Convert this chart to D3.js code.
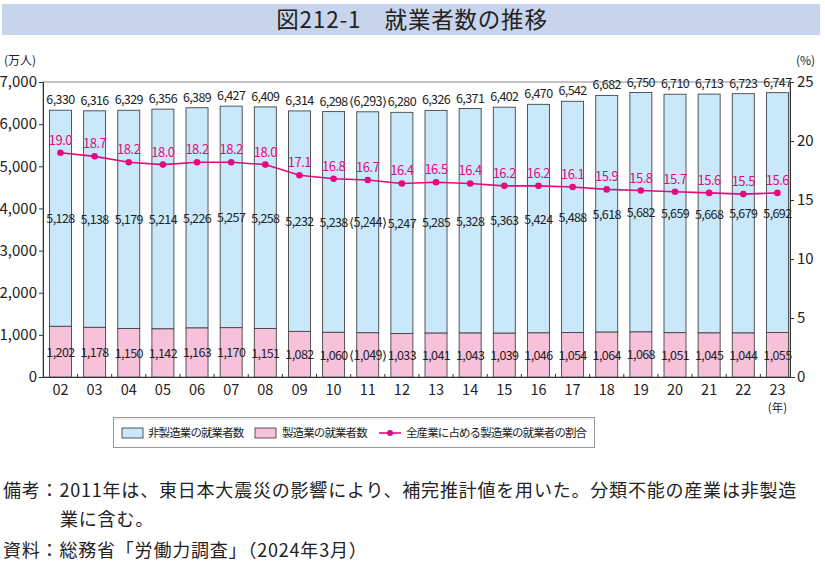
<!DOCTYPE html>
<html><head><meta charset="utf-8">
<script src="https://cdn.jsdelivr.net/npm/d3@7"></script>
<style>
body{margin:0;background:#fff;}
text{font-family:"Noto Sans CJK JP","Noto Sans",sans-serif;}
</style></head>
<body><svg id="c" width="825" height="566"></svg>
<script>
const years = ["02","03","04","05","06","07","08","09","10","11","12","13","14","15","16","17","18","19","20","21","22","23"];
const manuf = [1202,1178,1150,1142,1163,1170,1151,1082,1060,1049,1033,1041,1043,1039,1046,1054,1064,1068,1051,1045,1044,1055];
const nonManuf = [5128,5138,5179,5214,5226,5257,5258,5232,5238,5244,5247,5285,5328,5363,5424,5488,5618,5682,5659,5668,5679,5692];
const totals = [6330,6316,6329,6356,6389,6427,6409,6314,6298,6293,6280,6326,6371,6402,6470,6542,6682,6750,6710,6713,6723,6747];
const share = [19.0,18.7,18.2,18.0,18.2,18.2,18.0,17.1,16.8,16.7,16.4,16.5,16.4,16.2,16.2,16.1,15.9,15.8,15.7,15.6,15.5,15.6];
const leftTicks = [0,1000,2000,3000,4000,5000,6000,7000];
const rightTicks = [0,5,10,15,20,25];
const bracketYear = "11";

const svg = d3.select("#c");
const L = 43, R = 790, T = 82, B = 377;

// Title band
svg.append("rect").attr("x",2).attr("y",4).attr("width",818).attr("height",31).attr("fill","#c8d4ec");
svg.append("text").attr("x",412).attr("y",28).attr("text-anchor","middle")
  .attr("font-size",22.5).attr("letter-spacing","0.8px").attr("fill","#222").text("図212-1　就業者数の推移");

const x = d3.scaleBand().domain(years).range([43.4, 794.5]);
const bw = 22;
const cx = d => x(d) + x.bandwidth()/2;
const y = d3.scaleLinear().domain([0,7000]).range([B,T]);
const y2 = d3.scaleLinear().domain([0,25]).range([B,T]);

// frame
svg.append("rect").attr("x",L).attr("y",T).attr("width",R-L).attr("height",B-T)
  .attr("fill","none").attr("stroke","#888").attr("stroke-width",1);

// bars
const g = svg.append("g");
years.forEach((yr,i)=>{
  const x0 = cx(yr)-bw/2;
  g.append("rect").attr("x",x0).attr("y",y(totals[i])).attr("width",bw)
    .attr("height",y(manuf[i])-y(totals[i])).attr("fill","#c9e9fa").attr("stroke","#444").attr("stroke-width",0.9);
  g.append("rect").attr("x",x0).attr("y",y(manuf[i])).attr("width",bw)
    .attr("height",B-y(manuf[i])).attr("fill","#f7c1da").attr("stroke","#444").attr("stroke-width",0.9);
});

const fmt = d3.format(",");
const lab = (v,yr) => yr===bracketYear ? "\u27E8"+fmt(v)+"\u27E9" : fmt(v);
const numStyle = s => s.attr("text-anchor","middle").attr("font-size",12.5).attr("letter-spacing","-0.6px").attr("fill","#222");

years.forEach((yr,i)=>{
  svg.append("text").attr("x",cx(yr)).attr("y",y(totals[i])-6).call(numStyle).text(lab(totals[i],yr));
  svg.append("text").attr("x",cx(yr)).attr("y",(y(totals[i])+y(manuf[i]))/2+5).call(numStyle).text(lab(nonManuf[i],yr));
  svg.append("text").attr("x",cx(yr)).attr("y",(y(manuf[i])+B)/2+5).call(numStyle).text(lab(manuf[i],yr));
});

// axes
const xAxis = d3.axisBottom(x).tickSize(0).tickFormat(d=>d).tickPadding(8);
const gx = svg.append("g").attr("transform",`translate(0,${B})`).call(xAxis);
gx.select(".domain").attr("stroke","#333");
gx.selectAll("text").attr("font-size",14.5).attr("fill","#222").attr("font-family",'"Noto Sans CJK JP",sans-serif');
years.slice(1).forEach(yr=>{
  svg.append("line").attr("x1",x(yr)).attr("x2",x(yr)).attr("y1",B).attr("y2",B-3).attr("stroke","#333");
});
svg.append("text").attr("x",cx("23")).attr("y",412).attr("text-anchor","middle").attr("font-size",11.5).attr("fill","#222").text("(年)");

const yAxis = d3.axisLeft(y).tickValues(leftTicks).tickFormat(fmt).tickSize(4).tickPadding(2);
const gy = svg.append("g").attr("transform",`translate(${L},0)`).call(yAxis);
gy.select(".domain").attr("stroke","#333");
gy.selectAll("line").attr("stroke","#333");
gy.selectAll("text").attr("font-size",15).attr("fill","#222").attr("font-family",'"Noto Sans CJK JP",sans-serif');

const yAxis2 = d3.axisRight(y2).tickValues(rightTicks).tickSize(4).tickPadding(3);
const gy2 = svg.append("g").attr("transform",`translate(${R},0)`).call(yAxis2);
gy2.select(".domain").attr("stroke","#333");
gy2.selectAll("line").attr("stroke","#333");
gy2.selectAll("text").attr("font-size",15).attr("fill","#222").attr("font-family",'"Noto Sans CJK JP",sans-serif');

svg.append("text").attr("x",4).attr("y",65).attr("font-size",12).attr("fill","#222").text("(万人)");
svg.append("text").attr("x",796).attr("y",65).attr("font-size",12).attr("fill","#222").text("(%)");

// line
const line = d3.line().x((d,i)=>cx(years[i])).y(d=>y2(d));
svg.append("path").datum(share).attr("d",line).attr("fill","none").attr("stroke","#e5097f").attr("stroke-width",1.6);
share.forEach((v,i)=>{
  svg.append("circle").attr("cx",cx(years[i])).attr("cy",y2(v)).attr("r",3.3).attr("fill","#e5097f");
  svg.append("text").attr("x",cx(years[i])).attr("y",y2(v)-8).attr("text-anchor","middle")
    .attr("font-size",13).attr("letter-spacing","-0.5px").attr("fill","#e5097f").text(v.toFixed(1));
});

// legend
svg.append("rect").attr("x",113.5).attr("y",417.5).attr("width",481).attr("height",30)
  .attr("fill","#fff").attr("stroke","#999");
svg.append("line").attr("x1",114).attr("x2",594).attr("y1",419).attr("y2",419).attr("stroke","#ddd");
const legText = (xx,t)=>svg.append("text").attr("x",xx).attr("y",437).attr("font-size",11.5).attr("letter-spacing","-0.9px").attr("fill","#222").text(t);
svg.append("rect").attr("x",122).attr("y",428).attr("width",21).attr("height",10).attr("fill","#c9e9fa").attr("stroke","#444").attr("stroke-width",0.9);
legText(148,"非製造業の就業者数");
svg.append("rect").attr("x",255).attr("y",428).attr("width",21).attr("height",10).attr("fill","#f7c1da").attr("stroke","#444").attr("stroke-width",0.9);
legText(282,"製造業の就業者数");
svg.append("line").attr("x1",379).attr("x2",401).attr("y1",433).attr("y2",433).attr("stroke","#e5097f").attr("stroke-width",1.6);
svg.append("circle").attr("cx",390).attr("cy",433).attr("r",3).attr("fill","#e5097f");
legText(406,"全産業に占める製造業の就業者の割合");

// notes
const note = (xx,yy,t)=>svg.append("text").attr("x",xx).attr("y",yy).attr("font-size",18).attr("letter-spacing","0.8px").attr("fill","#222").text(t);
note(3,497,"備考：2011年は、東日本大震災の影響により、補完推計値を用いた。分類不能の産業は非製造");
note(60,526,"業に含む。");
note(3,557,"資料：総務省「労働力調査」（2024年3月）");
</script></body></html>
